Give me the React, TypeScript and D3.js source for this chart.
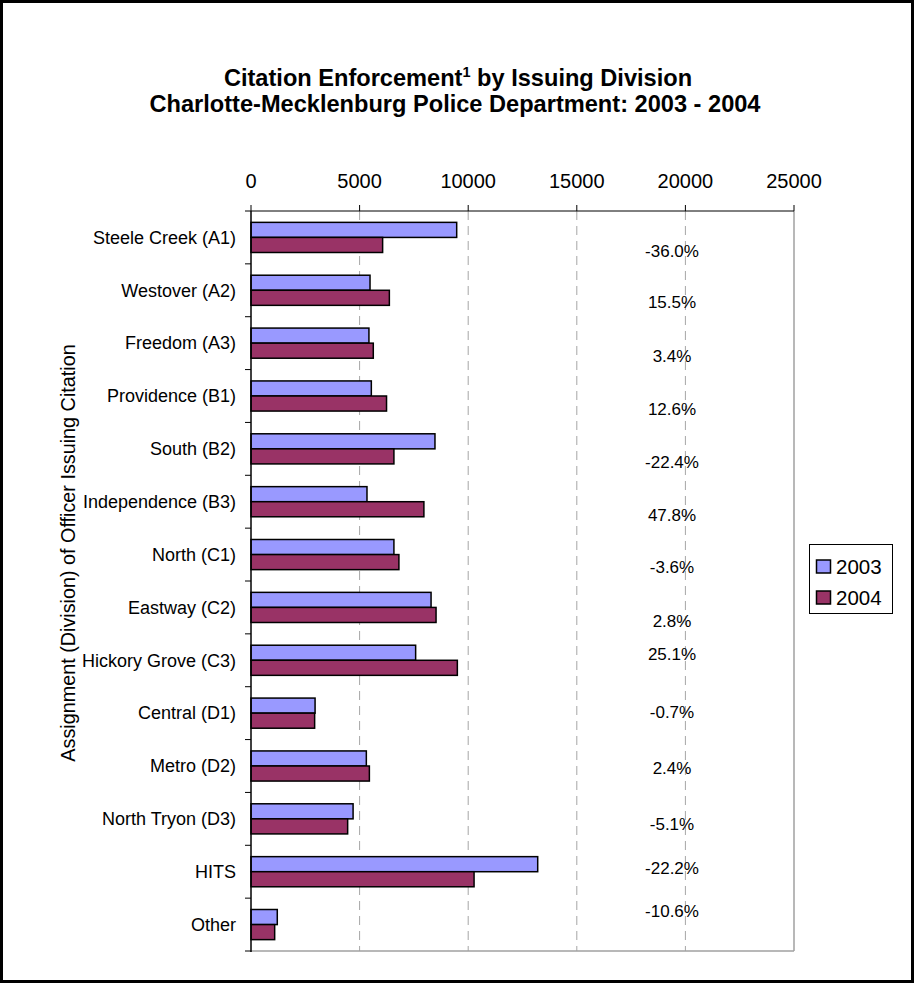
import React from 'react';
import * as d3 from 'd3';

const categories = [
  'Steele Creek (A1)', 'Westover (A2)', 'Freedom (A3)', 'Providence (B1)', 'South (B2)',
  'Independence (B3)', 'North (C1)', 'Eastway (C2)', 'Hickory Grove (C3)', 'Central (D1)',
  'Metro (D2)', 'North Tryon (D3)', 'HITS', 'Other',
];
const values2003 = [9470, 5480, 5430, 5540, 8470, 5340, 6580, 8290, 7580, 2950, 5310, 4700, 13200, 1210];
const values2004 = [6060, 6370, 5630, 6240, 6580, 7960, 6810, 8520, 9500, 2930, 5450, 4450, 10270, 1090];
const changeLabels = ['-36.0%', '15.5%', '3.4%', '12.6%', '-22.4%', '47.8%', '-3.6%', '2.8%', '25.1%', '-0.7%', '2.4%', '-5.1%', '-22.2%', '-10.6%'];
// where each % note sits, in rows down the category axis
const labelRows = [0.76, 1.72, 2.74, 3.75, 4.75, 5.75, 6.74, 7.76, 8.38, 9.48, 10.54, 11.6, 12.43, 13.24];
const xTicks = [0, 5000, 10000, 15000, 20000, 25000];
const seriesNames = ['2003', '2004'];
const seriesColors = ['#9999FF', '#993366'];

const W = 915;
const H = 985;
const plot = { left: 251, right: 794, top: 211, bottom: 951 };
const font = 'Arial, "Liberation Sans", sans-serif';

export default function App() {
  const x = d3.scaleLinear().domain([0, 25000]).range([plot.left, plot.right]);
  const y = d3.scaleBand().domain(categories).range([plot.top, plot.bottom]).paddingInner(0.43).paddingOuter(0.215);
  const sub = d3.scaleBand().domain(seriesNames).range([0, y.bandwidth()]);
  const rowY = d3.scaleLinear().domain([0, categories.length]).range([plot.top, plot.bottom]);
  const step = (plot.bottom - plot.top) / categories.length;
  const series = [values2003, values2004];

  return (
    <div style={{ position: 'absolute', left: 0, top: 0 }}>
      <svg width={W} height={H} style={{ display: 'block', fontFamily: font }}>
        <rect x={0} y={0} width={W} height={H} fill="#fff" />
        <rect x={1.5} y={1.5} width={911} height={980} fill="none" stroke="#000" strokeWidth={3} />

        <text x={458} y={86} textAnchor="middle" fontSize={23.6} fontWeight="bold">
          Citation Enforcement<tspan fontSize={14.5} dy={-9}>1</tspan>
          <tspan dy={9}> by Issuing Division</tspan>
        </text>
        <text x={455} y={112} textAnchor="middle" fontSize={23.6} fontWeight="bold">
          Charlotte-Mecklenburg Police Department: 2003 - 2004
        </text>

        {/* grid */}
        {xTicks.slice(1, -1).map(t => (
          <line key={t} x1={x(t)} x2={x(t)} y1={plot.top} y2={plot.bottom} stroke="#a6a6a6" strokeWidth={1} strokeDasharray="9,6" />
        ))}
        <line x1={plot.right} x2={plot.right} y1={plot.top} y2={plot.bottom} stroke="#a0a0a0" strokeWidth={1.5} />
        <line x1={plot.left} x2={plot.right} y1={plot.bottom} y2={plot.bottom} stroke="#a0a0a0" strokeWidth={1.5} />

        {/* bars */}
        {categories.map((c, i) => (
          <g key={c}>
            {series.map((vals, j) => (
              <rect
                key={j}
                x={x(0)}
                y={(y(c) as number) + (sub(seriesNames[j]) as number)}
                width={x(vals[i]) - x(0)}
                height={sub.bandwidth()}
                fill={seriesColors[j]}
                stroke="#000"
                strokeWidth={1.5}
              />
            ))}
          </g>
        ))}

        {/* top axis */}
        <line x1={plot.left} x2={plot.right} y1={plot.top} y2={plot.top} stroke="#000" strokeWidth={1} />
        {xTicks.map(t => (
          <g key={t}>
            <line x1={x(t)} x2={x(t)} y1={plot.top - 6} y2={plot.top} stroke="#000" />
            <text x={x(t)} y={188} textAnchor="middle" fontSize={20}>{t}</text>
          </g>
        ))}

        {/* left axis */}
        <line x1={plot.left} x2={plot.left} y1={plot.top} y2={plot.bottom + 1} stroke="#000" strokeWidth={1.5} />
        {d3.range(categories.length + 1).map(k => (
          <line key={k} x1={plot.left - 6} x2={plot.left} y1={plot.top + k * step} y2={plot.top + k * step} stroke="#000" />
        ))}
        {categories.map(c => (
          <text key={c} x={236} y={(y(c) as number) + y.bandwidth() / 2} dy="0.35em" textAnchor="end" fontSize={18}>
            {c}
          </text>
        ))}

        <text
          transform={`translate(68,553) rotate(-90)`}
          textAnchor="middle"
          dy="0.35em"
          fontSize={19.8}
        >
          Assignment (Division) of Officer Issuing Citation
        </text>

        {/* change notes */}
        {changeLabels.map((l, i) => (
          <text key={i} x={672} y={rowY(labelRows[i])} dy="0.35em" textAnchor="middle" fontSize={17}>
            {l}
          </text>
        ))}

        {/* legend */}
        <rect x={809.5} y={544.5} width={83} height={69} fill="#fff" stroke="#000" strokeWidth={1} />
        {seriesNames.map((s, j) => (
          <g key={s}>
            <rect x={816.5} y={560 + j * 31} width={14} height={13} fill={seriesColors[j]} stroke="#000" strokeWidth={1.5} />
            <text x={836} y={566.5 + j * 31} dy="0.35em" fontSize={20.5}>{s}</text>
          </g>
        ))}
      </svg>
    </div>
  );
}
